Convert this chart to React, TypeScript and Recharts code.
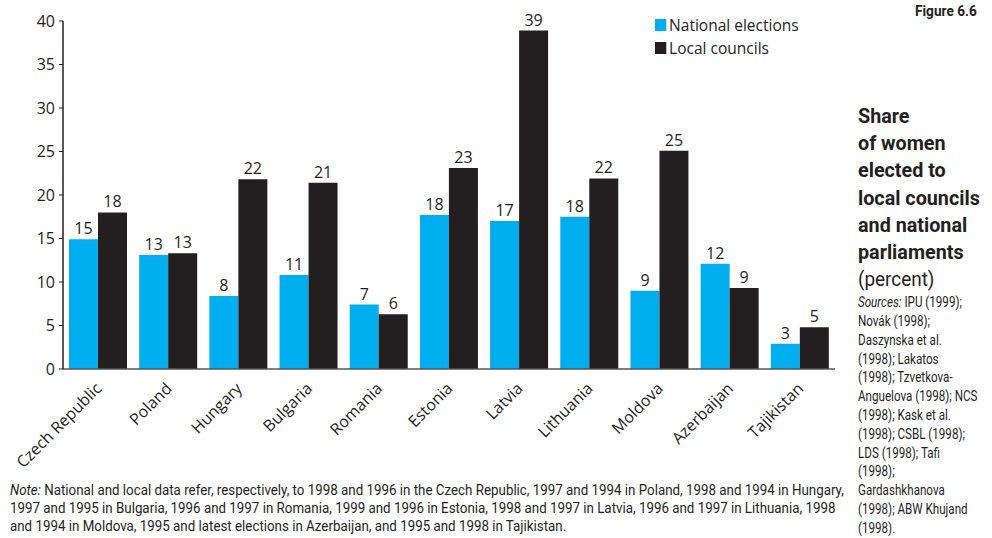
import { BarChart, Bar, XAxis, YAxis, LabelList } from "recharts";

const countries = [
  "Czech Republic",
  "Poland",
  "Hungary",
  "Bulgaria",
  "Romania",
  "Estonia",
  "Latvia",
  "Lithuania",
  "Moldova",
  "Azerbaijan",
  "Tajikistan",
];
const national = [14.9, 13.1, 8.4, 10.8, 7.4, 17.7, 17.0, 17.5, 9.0, 12.1, 2.9];
const local = [18.0, 13.3, 21.8, 21.4, 6.3, 23.1, 38.9, 21.9, 25.1, 9.3, 4.8];
const yTicks = [0, 5, 10, 15, 20, 25, 30, 35, 40];

const BLUE = "#00aeef";
const DARK = "#231f20";
const FONT = "'Open Sans', 'Noto Sans', sans-serif";
const NARROW = "Roboto, 'Noto Sans', sans-serif";

const data = countries.map((c, i) => ({ country: c, national: national[i], local: local[i] }));

function CountryTick(props: any) {
  const { x, y, payload } = props;
  return (
    <g transform={`translate(${x + 1},${y + 9})`}>
      <text
        textAnchor="end"
        transform="rotate(-45)"
        fontFamily={FONT}
        fontSize={16}
        fill={DARK}
        dy={5}
      >
        {payload.value}
      </text>
    </g>
  );
}

const legendItems = [
  { label: "National elections", color: BLUE },
  { label: "Local councils", color: DARK },
];

const squeeze = (s: number) => ({ transform: `scaleX(${s})`, transformOrigin: "left top" });

export default function App() {
  return (
    <div
      style={{
        position: "absolute",
        left: 0,
        top: 0,
        width: 992,
        height: 538,
        background: "#fff",
        color: DARK,
        overflow: "hidden",
      }}
    >
      <div style={{ position: "absolute", left: 0, top: 0 }}>
        <BarChart
          width={850}
          height={470}
          data={data}
          margin={{ top: 21, right: 15, left: 8, bottom: 0 }}
          barCategoryGap={6}
          barGap={0}
        >
          <XAxis
            dataKey="country"
            interval={0}
            height={101}
            tick={<CountryTick />}
            tickLine={false}
            axisLine={{ stroke: "#555", strokeWidth: 1.5 }}
          />
          <YAxis
            width={55}
            domain={[0, 40]}
            ticks={yTicks}
            interval={0}
            tick={{ fill: DARK, fontSize: 16, fontFamily: FONT, dx: -2 }}
            tickLine={{ stroke: DARK }}
            tickSize={4}
            axisLine={{ stroke: DARK, strokeWidth: 1.5 }}
          />
          <Bar dataKey="national" name="National elections" fill={BLUE} isAnimationActive={false}>
            <LabelList
              dataKey="national"
              position="top"
              offset={5}
              formatter={(v: number) => Math.round(v)}
              style={{ fill: DARK, fontSize: 16, fontFamily: FONT }}
            />
          </Bar>
          <Bar dataKey="local" name="Local councils" fill={DARK} isAnimationActive={false}>
            <LabelList
              dataKey="local"
              position="top"
              offset={5}
              formatter={(v: number) => Math.round(v)}
              style={{ fill: DARK, fontSize: 16, fontFamily: FONT }}
            />
          </Bar>
        </BarChart>
      </div>

      <div
        style={{
          position: "absolute",
          left: 655,
          top: 13,
          fontFamily: FONT,
          fontSize: 16.5,
          lineHeight: "23px",
          ...squeeze(0.94),
        }}
      >
        {legendItems.map((it) => (
          <div key={it.label} style={{ display: "flex", alignItems: "center" }}>
            <span
              style={{ width: 12, height: 12, background: it.color, display: "inline-block", marginRight: 3 }}
            />
            {it.label}
          </div>
        ))}
      </div>

      <div
        style={{
          position: "absolute",
          left: 915,
          top: 2,
          fontFamily: NARROW,
          fontWeight: "bold",
          fontSize: 15.5,
          whiteSpace: "nowrap",
          ...squeeze(0.88),
        }}
      >
        Figure 6.6
      </div>

      <div
        style={{
          position: "absolute",
          left: 858,
          top: 103,
          fontFamily: NARROW,
          whiteSpace: "nowrap",
        }}
      >
        <div style={{ fontWeight: "bold", fontSize: 21, lineHeight: "27.2px", ...squeeze(0.94) }}>
          Share
          <br />
          of women
          <br />
          elected to
          <br />
          local councils
          <br />
          and national
          <br />
          parliaments
        </div>
        <div style={{ fontSize: 21, lineHeight: "27px", ...squeeze(0.9) }}>(percent)</div>
        <div style={{ fontSize: 14, lineHeight: "18.8px", ...squeeze(0.83) }}>
          <i>Sources:</i> IPU (1999);
          <br />
          Novák (1998);
          <br />
          Daszynska et al.
          <br />
          (1998); Lakatos
          <br />
          (1998); Tzvetkova-
          <br />
          Anguelova (1998); NCS
          <br />
          (1998); Kask et al.
          <br />
          (1998); CSBL (1998);
          <br />
          LDS (1998); Tafi
          <br />
          (1998);
          <br />
          Gardashkhanova
          <br />
          (1998); ABW Khujand
          <br />
          (1998).
        </div>
      </div>

      <div
        style={{
          position: "absolute",
          left: 10,
          top: 482,
          fontFamily: NARROW,
          fontSize: 14.5,
          lineHeight: "18px",
          whiteSpace: "nowrap",
          ...squeeze(0.92),
        }}
      >
        <div>
          <i>Note:</i> National and local data refer, respectively, to 1998 and 1996 in the Czech Republic, 1997 and
          1994 in Poland, 1998 and 1994 in Hungary,
        </div>
        <div>
          1997 and 1995 in Bulgaria, 1996 and 1997 in Romania, 1999 and 1996 in Estonia, 1998 and 1997 in Latvia,
          1996 and 1997 in Lithuania, 1998
        </div>
        <div>and 1994 in Moldova, 1995 and latest elections in Azerbaijan, and 1995 and 1998 in Tajikistan.</div>
      </div>
    </div>
  );
}
